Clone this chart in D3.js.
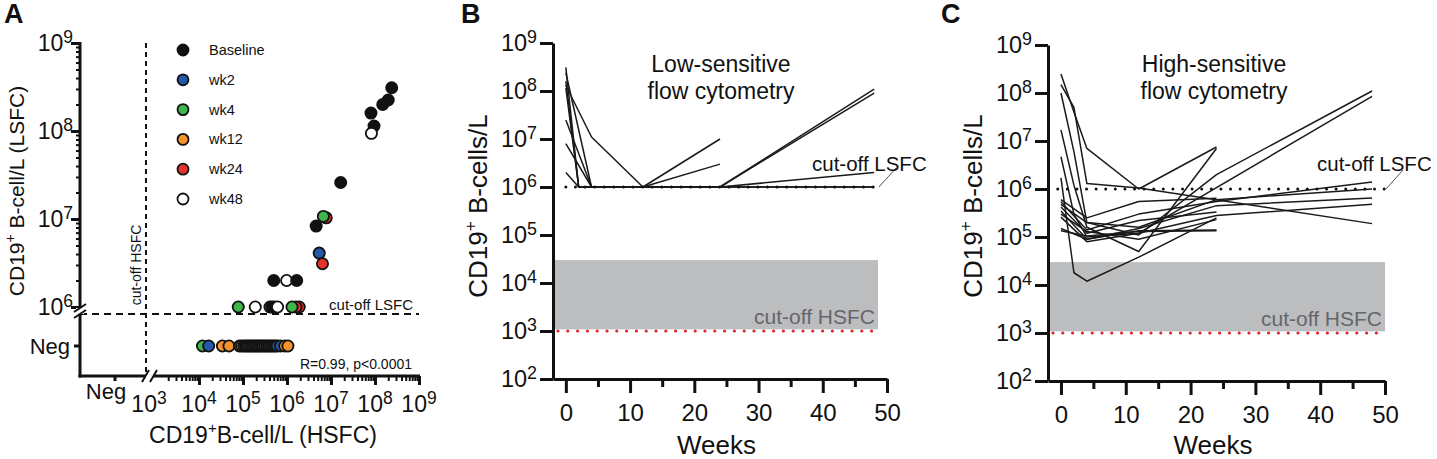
<!DOCTYPE html>
<html><head><meta charset="utf-8">
<script src="https://cdn.jsdelivr.net/npm/d3@7"></script>
<style>
body{margin:0;background:#fff}
svg{display:block}
text{font-family:"Liberation Sans",Arial,Helvetica,sans-serif;fill:#111}
</style>
</head><body>
<svg id="c" width="1437" height="459"></svg>
<script>
// ---------------- DATA ----------------
// Panel A legend groups
const groups = ["Baseline","wk2","wk4","wk12","wk24","wk48"];
const groupColors = ["#111111","#2459a9","#3fb54b","#f4922f","#e8322e","#ffffff"];
// Panel A axis tick labels
const decadesA = [3,4,5,6,7,8,9];
const decadesAy = [6,7,8,9];
// Panel A points: [group, HSFC value, LSFC value (null = Neg)]
const pointsA = [
  ["Baseline",2.4e8,3.1e8],["Baseline",2.0e8,2.25e8],["Baseline",1.5e8,2.0e8],
  ["Baseline",8.1e7,1.6e8],["Baseline",9.5e7,1.14e8],["wk48",8.3e7,9.4e7],
  ["Baseline",1.66e7,2.6e7],["Baseline",4.6e6,8.3e6],["wk24",7.8e6,1.03e7],["wk4",6.7e6,1.07e7],
  ["wk2",5.4e6,4.1e6],["wk24",6.4e6,3.1e6],
  ["Baseline",5.0e5,2.0e6],["wk48",9.8e5,2.0e6],["Baseline",1.66e6,2.0e6],
  ["wk4",7.8e4,1e6],["wk48",1.9e5,1e6],["wk24",4.1e5,1e6],["Baseline",4.6e5,1e6],
  ["Baseline",5.2e5,1e6],["wk48",6.1e5,1e6],["wk24",1.9e6,1e6],["wk24",1.6e6,1e6],["wk4",1.3e6,1e6],
  ["wk4",1.2e4,null],["wk2",1.66e4,null],["wk12",3.4e4,null],["wk12",4.8e4,null],
  ["wk4",8.3e4,null],["wk12",9.3e4,null],["wk4",1.05e5,null],["wk2",1.15e5,null],
  ["wk4",1.26e5,null],["wk12",1.38e5,null],["wk2",1.51e5,null],["wk4",1.66e5,null],
  ["wk12",1.82e5,null],["wk2",2.0e5,null],["wk4",2.19e5,null],["wk12",2.4e5,null],
  ["wk2",2.63e5,null],["wk4",2.88e5,null],["wk12",3.16e5,null],["wk2",3.47e5,null],
  ["wk4",3.8e5,null],["wk12",4.17e5,null],["wk2",4.57e5,null],["wk2",5.0e5,null],
  ["wk12",5.5e5,null],["wk2",6.0e5,null],["wk2",7.1e5,null],["wk12",8.9e5,null],["wk12",1.05e6,null]
];
// Panel B / C axis ticks
const weekTicks = [0,10,20,30,40,50];
const weekMinor = [5,15,25,35,45];
const decadesBC = [2,3,4,5,6,7,8,9];
// Panel B: low-sensitive flow cytometry, per patient [week, cells/L]
const lowSens = [
  [[0,3.1e8],[2,1e6],[4,1e6],[12,1e6],[24,1e6],[48,1e6]],
  [[0,2.4e8],[4,1e6],[12,1e6],[24,1e6],[48,1e6]],
  [[0,1.6e8],[2,1e6],[4,1e6],[12,1e6]],
  [[0,1.3e8],[4,1.1e7],[12,1e6],[24,1e7]],
  [[0,1.15e8],[2,1e6],[4,1e6],[12,1e6],[24,3e6]],
  [[0,2.5e7],[4,1e6],[12,1e6],[24,1e6],[48,1.1e8]],
  [[0,8e6],[4,1e6],[12,1e6],[24,1e6],[48,9e7]],
  [[0,2e6],[2,1e6],[4,1e6],[12,1e6],[24,1e6],[48,2e6]]
];
// Panel C: high-sensitive flow cytometry, per patient [week, cells/L]
const highSens = [
  [[0,2.5e8],[2,4e7],[4,7e6],[12,1e6],[24,7.5e6]],
  [[0,1.5e8],[2,5e7],[4,1.3e6],[12,1.05e6],[48,1.9e5]],
  [[0,1.0e8],[2,6e6],[4,2e5],[12,1.1e5],[24,2e6],[48,1.1e8]],
  [[0,1.7e7],[2,1.2e6],[4,1.6e5],[12,5e4],[24,7e6]],
  [[0,4.7e6],[2,3e5],[4,1e5],[12,1.2e5],[48,8.5e7]],
  [[0,1.7e6],[2,1.8e4],[4,1.2e4],[12,3.8e4],[24,2.5e5]],
  [[0,5.4e5],[4,1.4e5],[12,3e5],[24,5.5e5],[48,1.4e6]],
  [[0,4.8e5],[4,2e5],[12,1.6e5],[24,6e5],[48,1e6]],
  [[0,3.5e5],[4,9e4],[12,1.5e5],[24,4.5e5],[48,6.5e5]],
  [[0,2.6e5],[4,8e4],[12,1.2e5],[24,2.8e5],[48,4.8e5]],
  [[0,1.5e5],[4,9e4],[12,1.35e5],[24,1.4e5]],
  [[0,1.35e5],[4,1.05e5],[12,1.3e5],[24,1.35e5]],
  [[0,4.2e5],[4,1.2e5],[12,2.2e5],[24,3.3e5]],
  [[0,3e5],[4,1.3e5],[12,9e4],[24,2.3e5]],
  [[0,6e5],[4,2.5e5],[12,5.5e5],[24,6.4e5]]
];
const cutLSFC = 1e6, cutHSFC = 1e3, bandTop = 3e4;

// ---------------- DRAW ----------------
const svg = d3.select("#c");

function pow10(g, x, y, exp, size, anchor){
  const t = g.append("text").attr("x",x).attr("y",y).attr("text-anchor",anchor)
    .style("font-size",size+"px");
  t.append("tspan").text("10");
  t.append("tspan").attr("dy",-size*0.34).style("font-size",(size*0.76)+"px").text(exp);
  return t;
}
function cdTitle(g, x, y, rot, size, rest){
  const t = g.append("text").attr("text-anchor","middle")
    .attr("transform",`translate(${x},${y})` + (rot?` rotate(${rot})`:""))
    .style("font-size",size+"px");
  t.append("tspan").text("CD19");
  t.append("tspan").attr("dy",-size*0.42).style("font-size",(size*0.66)+"px").text("+");
  t.append("tspan").attr("dy",size*0.42).text(rest);
  return t;
}

// ===== Panel A =====
const gA = svg.append("g");
const xA = d3.scaleLog().domain([1e3,1e9]).range([155,419]);
const yA = d3.scaleLog().domain([1e6,1e9]).range([307,43]);
const negXA = 115, negYA = 346, axXA = 80, axYA = 376;

gA.append("text").attr("x",4).attr("y",23).style("font-size","27px").style("font-weight","bold").text("A");

// dashed cut-off lines
gA.append("line").attr("x1",146).attr("x2",146).attr("y1",yA(1e9)).attr("y2",axYA)
  .attr("stroke","#111").attr("stroke-width",2).attr("stroke-dasharray","5,4");
gA.append("line").attr("x1",axXA).attr("x2",xA(1e9)).attr("y1",314).attr("y2",314)
  .attr("stroke","#111").attr("stroke-width",2).attr("stroke-dasharray","7,5");

// y axis ticks (upper log part) via d3 axis
const yTicksA = yA.ticks().filter(v=>v>=1e6);
const yMajA = decadesAy.map(e=>Math.pow(10,e));
gA.append("g").attr("transform",`translate(${axXA},0)`)
  .call(d3.axisLeft(yA).tickValues(yTicksA).tickSize(4).tickSizeOuter(0).tickFormat(""))
  .call(g=>{g.select(".domain").remove(); g.selectAll("line").attr("stroke","#111").attr("stroke-width",2);});
gA.append("g").attr("transform",`translate(${axXA},0)`)
  .call(d3.axisLeft(yA).tickValues(yMajA).tickSize(9).tickFormat(""))
  .call(g=>{g.select(".domain").remove(); g.selectAll("line").attr("stroke","#111").attr("stroke-width",3);});
// x axis ticks
const xTicksA = xA.ticks().filter(v=>v>1e3);
const xMajA = decadesA.filter(e=>e>3).map(e=>Math.pow(10,e));
gA.append("g").attr("transform",`translate(0,${axYA})`)
  .call(d3.axisBottom(xA).tickValues(xTicksA).tickSize(5).tickFormat(""))
  .call(g=>{g.select(".domain").remove(); g.selectAll("line").attr("stroke","#111").attr("stroke-width",2);});
gA.append("g").attr("transform",`translate(0,${axYA})`)
  .call(d3.axisBottom(xA).tickValues(xMajA).tickSize(9).tickFormat(""))
  .call(g=>{g.select(".domain").remove(); g.selectAll("line").attr("stroke","#111").attr("stroke-width",3);});
// axis lines
gA.append("line").attr("x1",axXA).attr("x2",axXA).attr("y1",yA(1e9)-1).attr("y2",axYA+1.5).attr("stroke","#111").attr("stroke-width",3);
gA.append("line").attr("x1",axXA-1.5).attr("x2",xA(1e9)+1).attr("y1",axYA).attr("y2",axYA).attr("stroke","#111").attr("stroke-width",3);
// Neg ticks
gA.append("line").attr("x1",axXA-6).attr("x2",axXA).attr("y1",negYA).attr("y2",negYA).attr("stroke","#111").attr("stroke-width",3);
gA.append("line").attr("x1",negXA).attr("x2",negXA).attr("y1",axYA).attr("y2",axYA+5).attr("stroke","#111").attr("stroke-width",3);
// axis breaks
gA.append("rect").attr("x",axXA-4).attr("y",308).attr("width",8).attr("height",6).attr("fill","#fff");
gA.append("line").attr("x1",axXA-6).attr("y1",312).attr("x2",axXA+6).attr("y2",304).attr("stroke","#111").attr("stroke-width",2);
gA.append("line").attr("x1",axXA-6).attr("y1",318).attr("x2",axXA+6).attr("y2",310).attr("stroke","#111").attr("stroke-width",2);
gA.append("rect").attr("x",146).attr("y",axYA-3).attr("width",7).attr("height",6).attr("fill","#fff");
gA.append("line").attr("x1",142).attr("y1",axYA+6).attr("x2",149).attr("y2",axYA-6).attr("stroke","#111").attr("stroke-width",2);
gA.append("line").attr("x1",150).attr("y1",axYA+6).attr("x2",157).attr("y2",axYA-6).attr("stroke","#111").attr("stroke-width",2);

// tick labels
decadesAy.forEach(e=>pow10(gA, 73, yA(Math.pow(10,e))+8, e, 23, "end"));
gA.append("text").attr("x",70).attr("y",negYA+8).attr("text-anchor","end").style("font-size","22px").text("Neg");
decadesA.forEach(e=>pow10(gA, xA(Math.pow(10,e)) - (e===3?6:0), 412, e, 23, "middle"));
gA.append("text").attr("x",106).attr("y",399).attr("text-anchor","middle").style("font-size","22px").text("Neg");
// titles
cdTitle(gA, 24, 191, -90, 21, " B-cell/L (LSFC)");
cdTitle(gA, 263, 443, 0, 23, "B-cell/L (HSFC)");
// annotation texts
gA.append("text").attr("transform","translate(141,265) rotate(-90)").attr("text-anchor","middle")
  .style("font-size","14px").text("cut-off HSFC");
gA.append("text").attr("x",413).attr("y",310).attr("text-anchor","end").style("font-size","15px").text("cut-off LSFC");
gA.append("text").attr("x",412).attr("y",369).attr("text-anchor","end").style("font-size","14px").text("R=0.99, p<0.0001");

// legend
const colorA = d3.scaleOrdinal().domain(groups).range(groupColors);
const legY = d3.scalePoint().domain(groups).range([50,199]);
const leg = gA.append("g");
leg.selectAll("circle").data(groups).join("circle")
  .attr("cx",183).attr("cy",d=>legY(d)).attr("r",5.5)
  .attr("fill",d=>colorA(d)).attr("stroke","#111").attr("stroke-width",1.8);
leg.selectAll("text").data(groups).join("text")
  .attr("x",209).attr("y",d=>legY(d)+5).style("font-size","14.5px").text(d=>d);

// points
gA.append("g").selectAll("circle").data(pointsA).join("circle")
  .attr("cx",d=>xA(d[1])).attr("cy",d=>d[2]===null?negYA:yA(d[2])).attr("r",5.6)
  .attr("fill",d=>colorA(d[0])).attr("stroke","#111").attr("stroke-width",1.8);

// ===== Panels B and C =====
function timePanel(opt){
  const g = svg.append("g");
  const x = d3.scaleLinear().domain([-2,50]).range([opt.x0,opt.x1]);
  const y = d3.scaleLog().domain([1e2,1e9]).range([opt.y0,opt.y1]);
  g.append("text").attr("x",opt.letterX).attr("y",23).style("font-size","27px").style("font-weight","bold").text(opt.letter);
  // gray band
  g.append("rect").attr("x",opt.x0+2).attr("width",x(opt.bandEnd)-opt.x0-2)
    .attr("y",y(bandTop)).attr("height",y(cutHSFC*1.08)-y(bandTop)).attr("fill","#bcbdbf");
  g.append("text").attr("x",x(opt.bandEnd)-3).attr("y",y(cutHSFC)-7).attr("text-anchor","end")
    .style("font-size","21px").style("fill","#65666a").text("cut-off HSFC");
  // red dotted HSFC cutoff
  g.append("line").attr("x1",opt.x0+5).attr("x2",x(opt.bandEnd)).attr("y1",y(cutHSFC)).attr("y2",y(cutHSFC))
    .attr("stroke","#e0242b").attr("stroke-width",3.2).attr("stroke-linecap","round").attr("stroke-dasharray","0,9.8");
  // patient lines
  const line = d3.line().x(d=>x(d[0])).y(d=>y(d[1]));
  g.append("g").selectAll("path").data(opt.data).join("path")
    .attr("d",line).attr("fill","none").attr("stroke","#1a1a1a").attr("stroke-width",1.5).attr("stroke-linejoin","round");
  // black dotted LSFC cutoff
  g.append("line").attr("x1",x(opt.dotStart)).attr("x2",x(opt.bandEnd)).attr("y1",y(cutLSFC)).attr("y2",y(cutLSFC))
    .attr("stroke","#111").attr("stroke-width",3).attr("stroke-linecap","round").attr("stroke-dasharray","0,9.6");
  g.append("line").attr("x1",x(opt.bandEnd)+1).attr("y1",y(cutLSFC)).attr("x2",x(opt.bandEnd)+18).attr("y2",y(cutLSFC)-19)
    .attr("stroke","#555").attr("stroke-width",1);
  g.append("text").attr("x",opt.lsfcX).attr("y",171).style("font-size","20.5px").text("cut-off LSFC");
  // title
  g.append("text").attr("x",opt.titleX).attr("y",72).attr("text-anchor","middle").style("font-size","23px").text(opt.title1);
  g.append("text").attr("x",opt.titleX).attr("y",99).attr("text-anchor","middle").style("font-size","23px").text("flow cytometry");
  // axes
  g.append("g").attr("transform",`translate(${opt.x0},0)`)
    .call(d3.axisLeft(y).tickValues(decadesBC.map(e=>Math.pow(10,e))).tickSize(13).tickSizeOuter(0).tickFormat(""))
    .call(a=>{a.select(".domain").attr("stroke","#111").attr("stroke-width",3); a.selectAll("line").attr("stroke","#111").attr("stroke-width",3);});
  g.append("g").attr("transform",`translate(0,${opt.y0})`)
    .call(d3.axisBottom(x).tickValues(weekMinor).tickSize(8).tickSizeOuter(0).tickFormat(""))
    .call(a=>{a.select(".domain").remove(); a.selectAll("line").attr("stroke","#111").attr("stroke-width",3);});
  g.append("g").attr("transform",`translate(0,${opt.y0})`)
    .call(d3.axisBottom(x).tickValues(weekTicks).tickSize(14).tickSizeOuter(0).tickPadding(11).tickFormat(d3.format("d")))
    .call(a=>{a.select(".domain").attr("stroke","#111").attr("stroke-width",3); a.selectAll("line").attr("stroke","#111").attr("stroke-width",3);
      a.selectAll("text").style("font-size","24px").style("font-family",'"Liberation Sans",Arial,sans-serif').attr("fill","#111");});
  decadesBC.forEach(e=>pow10(g, opt.x0-16, y(Math.pow(10,e))+8, e, 23.5, "end"));
  cdTitle(g, opt.x0-66, 206, -90, 26, " B-cells/L");
  g.append("text").attr("x",(x(0)+x(50))/2-10).attr("y",454).attr("text-anchor","middle").style("font-size","26px").text("Weeks");
}

timePanel({letter:"B", letterX:461, x0:553, x1:887, y0:379, y1:43, bandEnd:48.6, dotStart:0,
  data:lowSens, title1:"Low-sensitive", titleX:721, lsfcX:812});
timePanel({letter:"C", letterX:941, x0:1048, x1:1385, y0:381, y1:45, bandEnd:50, dotStart:-0.5,
  data:highSens, title1:"High-sensitive", titleX:1214, lsfcX:1317});
</script>
</body></html>
